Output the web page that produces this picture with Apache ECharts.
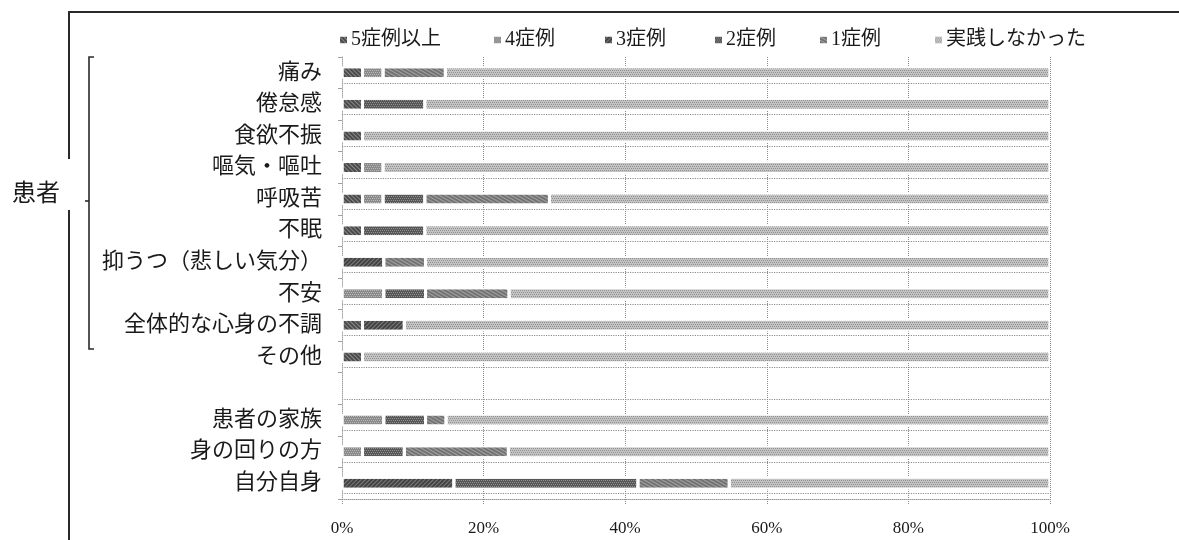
<!DOCTYPE html>
<html>
<head>
<meta charset="utf-8">
<script src="https://cdn.jsdelivr.net/npm/echarts@6/dist/echarts.min.js"></script>
<style>
  html, body { margin: 0; padding: 0; background: #ffffff; }
  #chart { width: 1179px; height: 540px; }
</style>
</head>
<body>
<div id="chart"></div>
<script>
// Rows of the chart, top to bottom ('' is the spacer row between the two groups)
const categories = [
  '痛み', '倦怠感', '食欲不振', '嘔気・嘔吐', '呼吸苦', '不眠',
  '抑うつ（悲しい気分）', '不安', '全体的な心身の不調', 'その他',
  '', '患者の家族', '身の回りの方', '自分自身'
];

const seriesNames = ['5症例以上', '4症例', '3症例', '2症例', '1症例', '実践しなかった'];

// Share of respondents (%) per row
const casesFivePlus = [2.9, 2.9, 2.9, 2.9, 2.9, 2.9, 0,   0,   2.9, 2.9, null, 0,   0,   0];
const casesFour     = [2.9, 0,   0,   2.9, 2.9, 0,   0,   5.9, 0,   0,   null, 5.9, 2.9, 0];
const casesThree    = [0,   0,   0,   0,   0,   0,   5.9, 0,   5.9, 0,   null, 0,   0,   15.8];
const casesTwo      = [0,   8.8, 0,   0,   5.9, 8.8, 0,   5.9, 0,   0,   null, 5.9, 5.9, 26.0];
const casesOne      = [8.8, 0,   0,   0,   17.6, 0,  5.9, 11.8, 0,  0,   null, 2.9, 14.7, 12.9];
const notPracticed  = [85.4, 88.3, 97.1, 94.2, 70.7, 88.3, 88.2, 76.4, 91.2, 97.1, null, 85.3, 76.5, 45.3];

const seriesValues = [casesFivePlus, casesFour, casesThree, casesTwo, casesOne, notPracticed];

// Percent axis
const xMin = 0, xMax = 100, xStep = 20;

// Styling: grey fills with a fine print-like texture on top
const seriesColors = ['#4a4a4a', '#8a8a8a', '#424242', '#575757', '#727272', '#c3c3c3'];
const seriesDecals = [
  { color: 'rgba(255,255,255,0.35)', dashArrayX: [1, 0], dashArrayY: [1, 2], rotation: Math.PI / 4 },
  { color: 'rgba(255,255,255,0.40)', dashArrayX: [[1, 1], [0, 1, 1, 0]], dashArrayY: [1, 1], rotation: 0 },
  { color: 'rgba(255,255,255,0.30)', dashArrayX: [1, 0], dashArrayY: [1, 2], rotation: -Math.PI / 4 },
  { color: 'rgba(255,255,255,0.35)', dashArrayX: [[1, 1], [0, 1, 1, 0]], dashArrayY: [1, 1], rotation: 0 },
  { color: 'rgba(255,255,255,0.35)', dashArrayX: [1, 0], dashArrayY: [1, 2], rotation: Math.PI / 6 },
  { color: 'rgba(70,70,70,0.40)', dashArrayX: [[1, 1], [0, 1, 1, 0]], dashArrayY: [1, 1], rotation: 0 }
];
const legendLeft = [333, 487, 598, 708, 813, 928];
const textColor = '#1a1a1a';
const jpFont = '"Liberation Serif", "Noto Sans CJK JP", serif';

const chart = echarts.init(document.getElementById('chart'), null, { renderer: 'canvas' });

const plot = { left: 342, top: 57, width: 708, height: 442 };

const option = {
  backgroundColor: '#ffffff',
  animation: false,
  grid: [
    { left: plot.left, top: plot.top, width: plot.width, height: plot.height },
    // companion grid carrying the dotted rule under each bar
    { left: plot.left, top: plot.top - 5.5, width: plot.width, height: plot.height }
  ],
  legend: seriesNames.map((name, i) => ({
    data: [name],
    left: legendLeft[i],
    top: 25,
    itemWidth: 9,
    itemHeight: 9,
    icon: 'rect',
    itemGap: 0,
    textStyle: { fontSize: 20, fontFamily: jpFont, color: textColor, padding: [0, 0, 0, -2] }
  })),
  xAxis: [
    {
      gridIndex: 0,
      type: 'value',
      min: xMin,
      max: xMax,
      interval: xStep,
      axisLabel: {
        formatter: '{value}%',
        fontSize: 17,
        fontFamily: '"Liberation Serif", serif',
        color: textColor,
        margin: 21
      },
      axisLine: { show: true, lineStyle: { color: '#9a9a9a', type: 'dotted', width: 1 } },
      axisTick: { show: true, length: 5, lineStyle: { color: '#8a8a8a', type: 'dotted' } },
      splitLine: { show: true, lineStyle: { color: '#8a8a8a', type: 'dotted', width: 1 } }
    },
    {
      gridIndex: 1,
      type: 'value',
      min: xMin,
      max: xMax,
      show: false,
      splitLine: { show: false }
    }
  ],
  yAxis: [
    {
      gridIndex: 0,
      type: 'category',
      data: categories,
      inverse: true,
      axisLabel: {
        fontSize: 22,
        fontFamily: jpFont,
        color: textColor,
        margin: 20
      },
      axisLine: { show: true, lineStyle: { color: '#a5a5a5', type: 'dotted' } },
      axisTick: { show: true, length: 4, lineStyle: { color: '#a0a0a0' } },
      splitLine: { show: false }
    },
    {
      gridIndex: 1,
      type: 'category',
      data: categories,
      inverse: true,
      axisLabel: { show: false },
      axisLine: { show: false },
      axisTick: { show: false },
      splitLine: {
        show: true,
        showMinLine: false,
        lineStyle: { color: '#8c8c8c', type: 'dotted', width: 1.2 }
      }
    }
  ],
  series: seriesNames.map((name, i) => ({
    name: name,
    type: 'bar',
    stack: 'share',
    xAxisIndex: 0,
    yAxisIndex: 0,
    barWidth: 12,
    itemStyle: {
      color: seriesColors[i],
      borderColor: '#ffffff',
      borderWidth: 1.5,
      decal: Object.assign({ symbol: 'rect', symbolSize: 1 }, seriesDecals[i])
    },
    emphasis: { disabled: true },
    data: seriesValues[i]
  })),
  graphic: [
    { type: 'line', shape: { x1: 68, y1: 12, x2: 1179, y2: 12 }, style: { stroke: '#2a2a2a', lineWidth: 2 } },
    { type: 'line', shape: { x1: 69, y1: 12, x2: 69, y2: 159 }, style: { stroke: '#2a2a2a', lineWidth: 2 } },
    { type: 'line', shape: { x1: 69, y1: 210, x2: 69, y2: 540 }, style: { stroke: '#2a2a2a', lineWidth: 2 } },
    { type: 'polyline', shape: { points: [[94, 57], [89, 57], [89, 349], [94, 349]] }, style: { stroke: '#2a2a2a', lineWidth: 1.6, fill: null } },
    { type: 'line', shape: { x1: 85, y1: 201, x2: 89, y2: 201 }, style: { stroke: '#2a2a2a', lineWidth: 1.6 } },
    {
      type: 'text', x: 12, y: 192,
      style: { text: '患者', fontSize: 24, fontFamily: '"Noto Sans CJK JP", sans-serif', fill: textColor, verticalAlign: 'middle', align: 'left' }
    }
  ]
};

chart.setOption(option);
</script>
</body>
</html>
